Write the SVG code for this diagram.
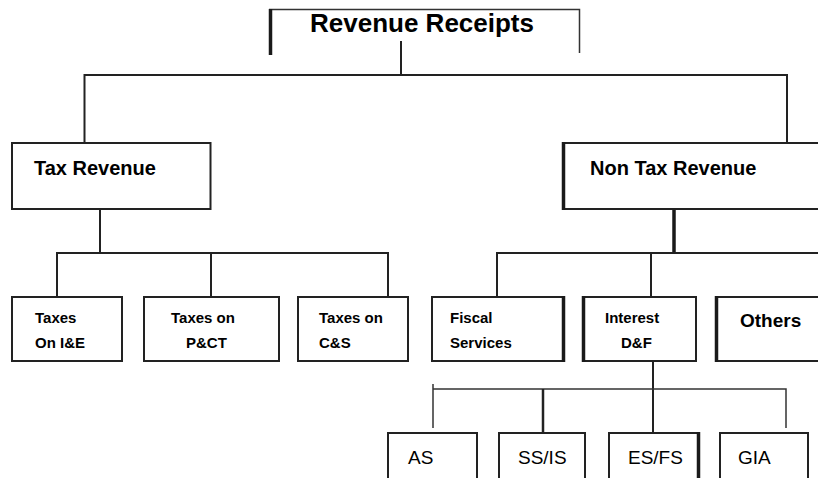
<svg xmlns="http://www.w3.org/2000/svg" width="818" height="478" viewBox="0 0 818 478">
<style>
.bx{fill:#fff;stroke:#222;stroke-width:2}
.ln{fill:none;stroke:#222;stroke-width:2}
.thk{fill:none;stroke:#1a1a1a;stroke-width:3.5}
.thn{fill:none;stroke:#333;stroke-width:1.5}
text{font-family:"Liberation Sans",Arial,sans-serif;fill:#000}
.b{font-weight:bold}
.t1{font-size:26px}
.t2{font-size:20px}
.t3{font-size:15px}
.t4{font-size:19px}
</style>
<rect width="818" height="478" fill="#fff"/>
<g id="connectors">
  <path class="thn" d="M269 9.5H579.5V53"/>
  <path class="thk" d="M270.5 9V55"/>
  <path class="ln" d="M401 41V75"/>
  <path class="ln" d="M84.5 143V75H787V143"/>
  <path class="ln" d="M100 209V253"/>
  <path class="ln" d="M57 297V253H388V297M211 253V297"/>
  <path class="thk" d="M674 209V253"/>
  <path class="ln" d="M497 297V253H818M651 253V297"/>
  <path class="ln" d="M653 362V433"/>
  <path class="thn" d="M433 428V384M433 389H786V428"/>
  <path class="ln" d="M543 389V433" style="stroke-width:2.5"/>
</g>
<g id="root">
  <text class="b t1" x="310" y="32">Revenue Receipts</text>
</g>
<g id="tax-revenue">
  <rect class="bx" x="12" y="143" width="198.5" height="66"/>
  <text class="b t2" x="34" y="175">Tax Revenue</text>
</g>
<g id="non-tax-revenue">
  <rect class="bx" x="563" y="143" width="270" height="66"/>
  <path class="thk" d="M563.5 142V210"/>
  <text class="b t2" x="590" y="175">Non Tax Revenue</text>
</g>
<g id="taxes-ie">
  <rect class="bx" x="12" y="297" width="110" height="64"/>
  <text class="b t3"><tspan x="35" y="323">Taxes</tspan><tspan x="35" y="348">On I&amp;E</tspan></text>
</g>
<g id="taxes-pct">
  <rect class="bx" x="144" y="297" width="135" height="64"/>
  <text class="b t3"><tspan x="171" y="323">Taxes on</tspan><tspan x="186" y="348">P&amp;CT</tspan></text>
</g>
<g id="taxes-cs">
  <rect class="bx" x="298" y="297" width="110" height="64"/>
  <text class="b t3"><tspan x="319" y="323">Taxes on</tspan><tspan x="319" y="348">C&amp;S</tspan></text>
</g>
<g id="fiscal-services">
  <rect class="bx" x="432" y="297" width="132" height="64"/>
  <path class="thk" d="M563.5 296V362"/>
  <text class="b t3"><tspan x="450" y="323">Fiscal</tspan><tspan x="450" y="348">Services</tspan></text>
</g>
<g id="interest-df">
  <rect class="bx" x="583" y="297" width="113" height="64"/>
  <path class="thk" d="M583.5 296V362"/>
  <text class="b t3"><tspan x="605" y="323">Interest</tspan><tspan x="621" y="348">D&amp;F</tspan></text>
</g>
<g id="others">
  <rect class="bx" x="716" y="297" width="120" height="64"/>
  <path class="thk" d="M716.5 296V362"/>
  <text class="b t4" x="740" y="327">Others</text>
</g>
<g id="as">
  <rect class="bx" x="388" y="433" width="89" height="60"/>
  <text class="t4" x="408" y="464">AS</text>
</g>
<g id="ss-is">
  <rect class="bx" x="499" y="433" width="86" height="60"/>
  <text class="t4" x="518" y="464">SS/IS</text>
</g>
<g id="es-fs">
  <rect class="bx" x="609" y="433" width="90" height="60"/>
  <path class="thk" d="M698.5 432V480"/>
  <text class="t4" x="628" y="464">ES/FS</text>
</g>
<g id="gia">
  <rect class="bx" x="720" y="433" width="88" height="60"/>
  <text class="t4" x="738" y="464">GIA</text>
</g>
</svg>
